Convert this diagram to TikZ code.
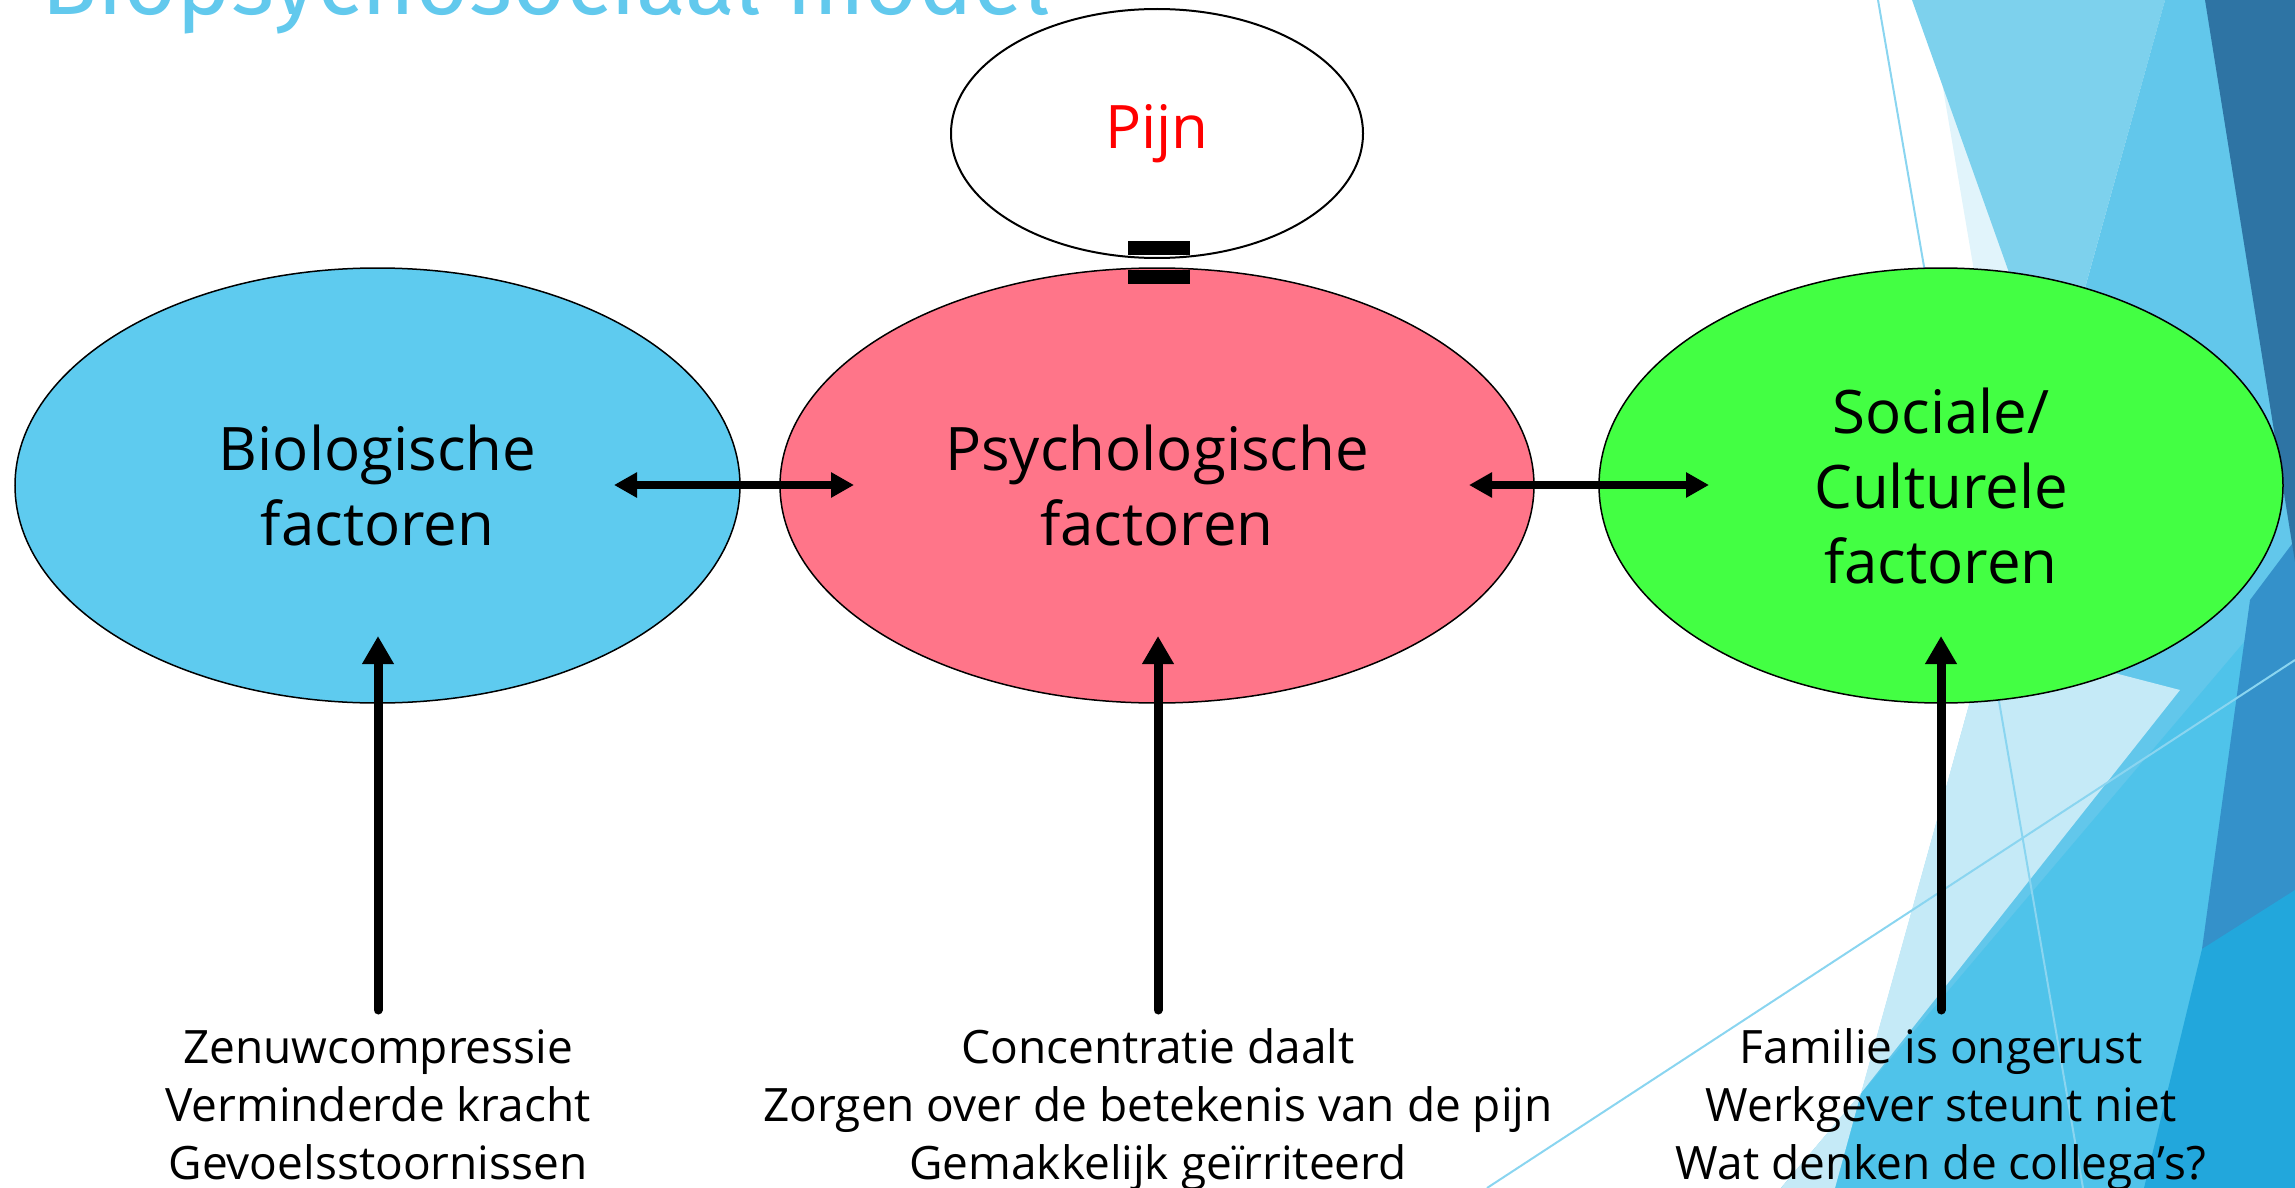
\documentclass[tikz,border=0pt]{standalone}
\usepackage{fontspec}
\setmainfont{Open Sans}
\newfontfamily\headfont{Fira Sans}
\usetikzlibrary{arrows.meta,shapes.geometric}

\definecolor{bioblue}{HTML}{5ECBEF}
\definecolor{psypink}{HTML}{FF7589}
\definecolor{socgreen}{HTML}{43FF43}
\definecolor{titleblue}{HTML}{62C9ED}
\definecolor{fFaint}{HTML}{E1F4FB}
\definecolor{fLight}{HTML}{7DD1ED}
\definecolor{fMed}{HTML}{62C7EB}
\definecolor{fDark}{HTML}{2E74A4}
\definecolor{fMid}{HTML}{3491CA}
\definecolor{fPale}{HTML}{C5EAF7}
\definecolor{fMed2}{HTML}{4FC3EA}
\definecolor{fVivid}{HTML}{22A7DC}
\definecolor{fLine}{HTML}{8AD5F0}

\begin{document}
\begin{tikzpicture}[x=1pt,y=-1pt,
  factor/.style={ellipse, draw=black, line width=1.5pt, inner sep=0pt,
    minimum height=435pt, align=center, font=\fontsize{60}{75}\selectfont},
  effects/.style={anchor=base, inner sep=0pt, font=\fontsize{46}{58}\selectfont},
  linkarrow/.style={line width=8pt,
    {Triangle[length=23pt,width=24pt]}-{Triangle[length=23pt,width=24pt]}},
  causearrow/.style={line width=9pt, line cap=round,
    -{Triangle[length=28pt,width=30pt]}},
  facetline/.style={draw=fLine, line width=2pt},
]
\useasboundingbox (0,0) rectangle (2295,1188);

% decorative facets on the right
\fill[fFaint] (1928,0) -- (2165,0) -- (2018,530) -- cycle;
\fill[fLight] (1912,0) -- (2165,0) -- (2054,399) -- cycle;
\fill[fMed] (2165,0) -- (2295,0) -- (2295,1188) -- (1835,1188) -- cycle;
\fill[fPale] (1987,640) -- (2180,690) -- (1861,1093) -- cycle;
\fill[fMed2] (1781,1188) -- (2295,582) -- (2295,1188) -- cycle;
\fill[fPale] (1781,1188) -- (1861,1093) -- (1835,1188) -- cycle;
\fill[fMid] (2295,540) -- (2250,600) -- (2202,949) -- (2295,900) -- cycle;
\fill[fVivid] (2144,1188) -- (2202,949) -- (2295,890) -- (2295,1188) -- cycle;
\fill[fDark] (2205,0) -- (2295,0) -- (2295,562) -- cycle;
\draw[facetline] (1878,0) -- (2083,1188);
\draw[facetline] (1487,1188) -- (2295,660);

% title
\node[anchor=base west, inner sep=0pt, text=titleblue,
  font=\headfont\fontsize{92}{92}\selectfont] (title) at (41,15) {Biopsychosociaal model};

% the three factors and the pain
\node[factor, fill=bioblue, minimum width=725pt] (bio) at (377.5,485.5) {Biologische\\factoren};
\node[factor, fill=psypink, minimum width=754pt] (psy) at (1157,485.5) {Psychologische\\factoren};
\node[factor, fill=socgreen, minimum width=684pt] (soc) at (1941,485.5) {Sociale/\\Culturele\\factoren};
\node[ellipse, draw=black, line width=2pt, fill=white, inner sep=0pt,
  minimum width=412pt, minimum height=249pt, text=red,
  font=\fontsize{60}{75}\selectfont] (pain) at (1157,133.5) {Pijn};

% equals sign between pain and psychological factors
\fill[black] (1128,241) rectangle (1190,255);
\fill[black] (1128,270) rectangle (1190,284);

% links between the factors
\coordinate (bpL) at (614,485);
\coordinate (bpR) at (854,485);
\coordinate (psL) at (1469,485);
\coordinate (psR) at (1709,485);
\draw[linkarrow] (bpL) -- (bpR);
\draw[linkarrow] (psL) -- (psR);

% examples under each factor
\node[effects] (bioTxt) at (378,1063) {\begin{tabular}[t]{@{}c@{}}Zenuwcompressie\\Verminderde kracht\\Gevoelsstoornissen\end{tabular}};
\node[effects] (psyTxt) at (1158,1063) {\begin{tabular}[t]{@{}c@{}}Concentratie daalt\\Zorgen over de betekenis van de pijn\\Gemakkelijk geïrriteerd\end{tabular}};
\node[effects] (socTxt) at (1941,1063) {\begin{tabular}[t]{@{}c@{}}Familie is ongerust\\Werkgever steunt niet\\Wat denken de collega’s?\end{tabular}};

\coordinate (bioFoot) at (378,1010);
\coordinate (bioTip) at (378,636);
\coordinate (psyFoot) at (1158,1010);
\coordinate (psyTip) at (1158,636);
\coordinate (socFoot) at (1941,1010);
\coordinate (socTip) at (1941,636);
\draw[causearrow] (bioFoot) -- (bioTip);
\draw[causearrow] (psyFoot) -- (psyTip);
\draw[causearrow] (socFoot) -- (socTip);
\end{tikzpicture}
\end{document}
